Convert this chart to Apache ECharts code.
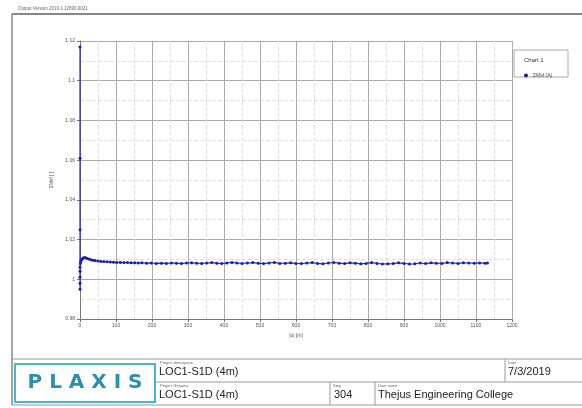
<!DOCTYPE html>
<html><head><meta charset="utf-8">
<script src="https://cdn.jsdelivr.net/npm/echarts@6/dist/echarts.min.js"></script>
<style>html,body{margin:0;padding:0;background:#fff}#c{width:582px;height:408px}</style>
</head><body><div id="c"></div>
<script>
const xVals = [0,0,0,0,0,0,0,0,1,2,3,5,7,10,13,16,20,25,30,36,42,50,58,66,75,84,93,102,112,122,132,142,152,162,172,185,198,212,226,240,254,268,282,296,310,324,338,352,366,380,394,408,422,436,450,465,480,495,510,525,540,555,570,585,600,615,630,645,660,675,690,705,720,735,750,765,780,795,810,825,840,855,870,885,900,915,930,945,960,975,990,1005,1020,1035,1050,1065,1080,1095,1110,1125,1132];
const yVals = [1.117,1.061,1.025,0.995,0.998,1.001,1.004,1.006,1.008,1.009,1.0095,1.010,1.0105,1.0108,1.0109,1.0108,1.0105,1.0102,1.0099,1.0096,1.0094,1.0092,1.0090,1.0089,1.0088,1.0087,1.0086,1.0085,1.0085,1.0084,1.0084,1.0083,1.0083,1.0082,1.0083,1.0081,1.0082,1.0080,1.0081,1.0080,1.0082,1.0081,1.0079,1.0082,1.0083,1.0081,1.0080,1.0082,1.0084,1.0081,1.0079,1.0082,1.0085,1.0082,1.0080,1.0082,1.0084,1.0081,1.0079,1.0082,1.0085,1.0080,1.0081,1.0083,1.0080,1.0079,1.0082,1.0084,1.0080,1.0078,1.0082,1.0085,1.0081,1.0079,1.0083,1.0081,1.0078,1.0080,1.0084,1.0080,1.0077,1.0078,1.0079,1.0083,1.0080,1.0077,1.0078,1.0082,1.0079,1.0083,1.0081,1.0080,1.0084,1.0082,1.0080,1.0083,1.0082,1.0081,1.0082,1.0081,1.0082];
const xTicks = {min:0, max:1200, interval:100};
const yTicks = {min:0.98, max:1.12, interval:0.02};
const seriesName = 'ΣMsf (A)';
const legendTitle = 'Chart 1';
const pageTitle = 'Output Version 2019.1.12690.0021';
const yTitle = 'ΣMsf [ ]';
const xTitle = '|u| [m]';
const block = {desc:'LOC1-S1D (4m)', file:'LOC1-S1D (4m)', step:'304', date:'7/3/2019', user:'Thejus Engineering College'};

const data = xVals.map((x,i)=>[x,yVals[i]]);
const chart = echarts.init(document.getElementById('c'));
const ff = 'Liberation Sans, Arial, sans-serif';
const tiny = {fontSize:4, fill:'#666', fontFamily:ff};
chart.setOption({
  animation:false,
  grid:{left:80, right:70, top:41, bottom:89},
  xAxis:{type:'value', min:xTicks.min, max:xTicks.max, interval:xTicks.interval,
    name:xTitle, nameLocation:'middle', nameGap:13, nameTextStyle:{fontSize:5,color:'#555',fontFamily:ff},
    axisLine:{onZero:false,lineStyle:{color:'#777',width:1}}, axisTick:{show:true,length:3,lineStyle:{color:'#777'}},
    axisLabel:{fontSize:5,color:'#555',margin:4,fontFamily:ff, formatter:v=>String(v)},
    splitLine:{lineStyle:{color:'#aaa',width:1}},
    minorTick:{show:false, splitNumber:2}, minorSplitLine:{show:true,lineStyle:{color:'#e0e0e0',width:1,type:'dashed'}}},
  yAxis:{type:'value', min:yTicks.min, max:yTicks.max, interval:yTicks.interval,
    name:yTitle, nameLocation:'middle', nameGap:14, nameRotate:90, nameTextStyle:{fontSize:5,color:'#555',fontFamily:ff},
    axisLine:{show:true,lineStyle:{color:'#777',width:1}}, axisTick:{show:true,length:3,lineStyle:{color:'#777'}},
    axisLabel:{fontSize:5,color:'#555',margin:5,fontFamily:ff, formatter:v=>String(Math.round(v*100)/100)},
    splitLine:{lineStyle:{color:'#aaa',width:1}},
    minorTick:{show:false, splitNumber:2}, minorSplitLine:{show:true,lineStyle:{color:'#e0e0e0',width:1,type:'dashed'}}},
  legend:{show:true, left:519, top:68, itemWidth:4, itemHeight:4, icon:'circle', itemGap:2,
    textStyle:{fontSize:5,color:'#444',fontFamily:ff}, data:[seriesName]},
  series:[{name:seriesName, type:'line', data:data, symbol:'circle', symbolSize:3,
    itemStyle:{color:'#1c1cb0'}, lineStyle:{color:'#2a2ad8',width:1.2}}],
  graphic:[
    {type:'text', left:18, top:6, style:Object.assign({text:pageTitle},tiny,{fontSize:4.5})},
    {type:'line', shape:{x1:12,y1:14,x2:582,y2:14}, style:{stroke:'#888',lineWidth:2}},
    {type:'line', shape:{x1:12,y1:14,x2:12,y2:405}, style:{stroke:'#888',lineWidth:1.5}},
    {type:'rect', shape:{x:514,y:50,width:54,height:27}, style:{fill:'#fff',stroke:'#aaa',lineWidth:1}, z:0},
    {type:'text', left:524, top:57, style:{text:legendTitle,fontSize:6,fill:'#333',fontFamily:ff}},
    {type:'line', shape:{x1:12,y1:359,x2:582,y2:359}, style:{stroke:'#999',lineWidth:1}},
    {type:'line', shape:{x1:155,y1:382,x2:582,y2:382}, style:{stroke:'#999',lineWidth:1}},
    {type:'line', shape:{x1:12,y1:405,x2:582,y2:405}, style:{stroke:'#999',lineWidth:1}},
    {type:'line', shape:{x1:505,y1:359,x2:505,y2:382}, style:{stroke:'#999',lineWidth:1}},
    {type:'line', shape:{x1:330,y1:382,x2:330,y2:405}, style:{stroke:'#999',lineWidth:1}},
    {type:'line', shape:{x1:375,y1:382,x2:375,y2:405}, style:{stroke:'#999',lineWidth:1}},
    {type:'rect', shape:{x:15,y:364,width:140,height:38}, style:{fill:'#fff',stroke:'#44b8cc',lineWidth:2}},
    {type:'text', x:85, y:383, style:{text:'P L A X I S',fontSize:20,fontWeight:'bold',fill:'#2d8fb0',fontFamily:'DejaVu Sans, sans-serif',align:'center',verticalAlign:'middle'}},
    {type:'text', left:160, top:361, style:Object.assign({text:'Project description'},tiny)},
    {type:'text', left:159, top:366, style:{text:block.desc,fontSize:11,fill:'#222',fontFamily:ff}},
    {type:'text', left:160, top:384, style:Object.assign({text:'Project filename'},tiny)},
    {type:'text', left:159, top:389, style:{text:block.file,fontSize:11,fill:'#222',fontFamily:ff}},
    {type:'text', left:508, top:361, style:Object.assign({text:'Date'},tiny)},
    {type:'text', left:508, top:366, style:{text:block.date,fontSize:11,fill:'#222',fontFamily:ff}},
    {type:'text', left:333, top:384, style:Object.assign({text:'Step'},tiny)},
    {type:'text', left:334, top:389, style:{text:block.step,fontSize:11,fill:'#222',fontFamily:ff}},
    {type:'text', left:378, top:384, style:Object.assign({text:'User name'},tiny)},
    {type:'text', left:378, top:389, style:{text:block.user,fontSize:11,fill:'#222',fontFamily:ff}}
  ]
});
</script></body></html>
